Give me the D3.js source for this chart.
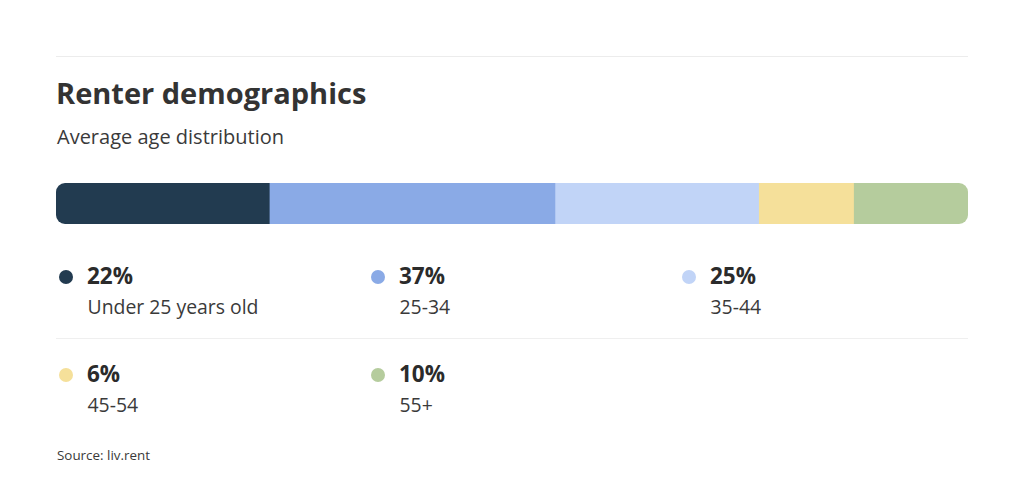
<!DOCTYPE html>
<html>
<head>
<meta charset="utf-8">
<script src="https://cdn.jsdelivr.net/npm/d3@7"></script>
<style>
  html, body { margin: 0; padding: 0; background: #fff; }
  svg { display: block; font-family: "Open Sans", sans-serif; }
</style>
</head>
<body>
<svg id="chart" width="1024" height="488"></svg>
<script>
// ---- data ----
const categories = ["Under 25 years old", "25-34", "35-44", "45-54", "55+"];
const percentLabels = ["22%", "37%", "25%", "6%", "10%"];
// segment shares as drawn in the bar
const barShares = [23.4, 31.3, 22.3, 10.4, 12.5];
const colors = ["#223b50", "#8aaae6", "#c1d4f7", "#f5e09a", "#b5cc9d"];
const title = "Renter demographics";
const subtitle = "Average age distribution";
const source = "Source: liv.rent";

const svg = d3.select("#chart");
const left = 56, right = 968;

// top rule
svg.append("line").attr("x1", left).attr("x2", right).attr("y1", 56.5).attr("y2", 56.5)
  .attr("stroke", "#ececec").attr("stroke-width", 1);

svg.append("text").attr("x", 56).attr("y", 104).text(title)
  .attr("font-size", 29).attr("font-weight", 700).attr("fill", "#333");
svg.append("text").attr("x", 57).attr("y", 144).text(subtitle)
  .attr("font-size", 20).attr("fill", "#3a3a3a");

// stacked bar
const total = d3.sum(barShares);
const x = d3.scaleLinear().domain([0, total]).range([left, right]);
const cum = [];
barShares.reduce((a, v, i) => { cum[i] = a; return a + v; }, 0);

const barY = 183, barH = 41;
svg.append("clipPath").attr("id", "barclip").append("rect")
  .attr("x", left).attr("y", barY).attr("width", right - left).attr("height", barH)
  .attr("rx", 9).attr("ry", 9);

svg.append("g").attr("clip-path", "url(#barclip)")
  .selectAll("rect").data(barShares).join("rect")
  .attr("x", (d, i) => x(cum[i]))
  .attr("y", barY)
  .attr("width", (d, i) => x(cum[i] + d) - x(cum[i]) + 0.5)
  .attr("height", barH)
  .attr("fill", (d, i) => colors[i]);

// legend
const colX = [66, 378, 689];
const rowY = [277, 375];
const items = categories.map((c, i) => ({ c, p: percentLabels[i], col: colors[i], cx: colX[i % 3], cy: rowY[Math.floor(i / 3)] }));

const g = svg.append("g").selectAll("g").data(items).join("g");
g.append("circle").attr("cx", d => d.cx).attr("cy", d => d.cy).attr("r", 7).attr("fill", d => d.col);
g.append("text").attr("x", d => d.cx + 21).attr("y", d => d.cy + 6.5).text(d => d.p)
  .attr("font-size", 22.5).attr("font-weight", 700).attr("fill", "#2b2b2b");
g.append("text").attr("x", d => d.cx + 21.5).attr("y", d => d.cy + 37).text(d => d.c)
  .attr("font-size", 19.4).attr("fill", "#3a3a3a");

// separator between rows
svg.append("line").attr("x1", left).attr("x2", right).attr("y1", 338.5).attr("y2", 338.5)
  .attr("stroke", "#efefef").attr("stroke-width", 1);

svg.append("text").attr("x", 57).attr("y", 460).text(source)
  .attr("font-size", 13.4).attr("fill", "#3a3a3a");
</script>
</body>
</html>
